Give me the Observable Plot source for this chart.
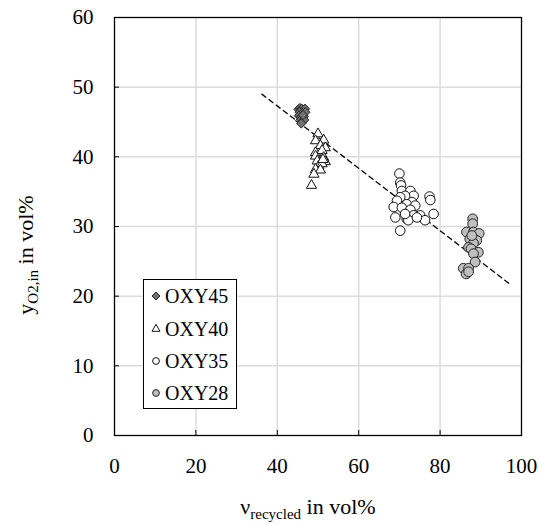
<!DOCTYPE html>
<html><head><meta charset="utf-8">
<script src="https://cdn.jsdelivr.net/npm/d3@7"></script>
<script src="https://cdn.jsdelivr.net/npm/@observablehq/plot@0.6"></script>
<style>body{margin:0;background:#fff} svg text{font-family:"Liberation Serif","DejaVu Serif",serif !important;}</style>
</head><body><div id="chart"></div>
<script>
const xTicks = [0, 20, 40, 60, 80, 100];
const yTicks = [0, 10, 20, 30, 40, 50, 60];
const xGrid = [20, 40, 60, 80];
const yGrid = [10, 20, 30, 40, 50];
const seriesNames = ["OXY45", "OXY40", "OXY35", "OXY28"];

const oxy45X = [45.2, 45.6, 46.0, 46.4, 46.8, 45.5, 46.2, 46.9, 45.3, 45.8, 46.5, 45.6, 46.1, 46.6, 45.9, 46.3];
const oxy45Y = [46.8, 47.0, 46.9, 46.7, 46.9, 46.4, 46.3, 46.4, 45.9, 45.7, 45.8, 45.2, 45.0, 45.3, 44.8, 46.0];

const oxy40X = [50.0, 49.4, 51.4, 50.6, 51.8, 49.4, 51.0, 49.4, 51.4, 49.8, 51.8, 50.2, 51.0, 49.4, 50.6, 49.0, 48.4, 51.2];
const oxy40Y = [43.3, 42.3, 42.4, 41.6, 41.3, 40.6, 40.9, 40.1, 39.9, 39.4, 39.3, 38.7, 39.0, 38.2, 38.1, 37.5, 35.9, 39.6];

const oxy35X = [70.0, 70.2, 70.4, 70.6, 72.7, 73.5, 71.4, 70.2, 77.4, 77.6, 69.4, 73.1, 71.8, 73.9, 68.6, 70.6, 72.7, 78.4, 75.1, 73.5, 69.0, 71.8, 72.2, 76.3, 74.3, 70.2, 71.4];
const oxy35Y = [37.6, 36.3, 35.9, 35.1, 35.1, 34.4, 34.4, 34.2, 34.3, 33.8, 33.7, 33.5, 33.2, 33.0, 32.8, 32.7, 32.4, 31.8, 31.6, 31.6, 31.3, 31.1, 30.9, 30.9, 31.3, 29.4, 31.8];

const oxy28X = [88.0, 88.0, 86.5, 88.2, 89.6, 87.3, 89.0, 88.2, 87.0, 87.6, 89.4, 88.2, 88.6, 85.7, 87.0, 86.4, 87.0, 87.8];
const oxy28Y = [31.1, 30.4, 29.2, 29.2, 29.0, 28.2, 28.0, 27.6, 27.0, 26.8, 26.3, 26.1, 24.9, 24.0, 24.0, 23.2, 23.5, 28.7];

const fitX = [36.2, 97.0];
const fitY = [49.0, 21.8];

const pts = (xs, ys) => xs.map((x, i) => ({x, y: ys[i]}));
const fit = pts(fitX, fitY);

const styles = {
  OXY45: {symbol: "diamond2", r: 4.2, fill: "#727272", stroke: "#222"},
  OXY40: {symbol: "triangle", r: 3.8, fill: "white", stroke: "#111"},
  OXY35: {symbol: "circle", r: 4.8, fill: "white", stroke: "#111"},
  OXY28: {symbol: "circle", r: 4.9, fill: "#bfbfbf", stroke: "#222"}
};
const data = {OXY45: pts(oxy45X, oxy45Y), OXY40: pts(oxy40X, oxy40Y), OXY35: pts(oxy35X, oxy35Y), OXY28: pts(oxy28X, oxy28Y)};

const font = "Liberation Serif, DejaVu Serif, serif";

const chart = Plot.plot({
  width: 539, height: 525,
  marginLeft: 114, marginRight: 18, marginTop: 17, marginBottom: 90,
  style: {fontFamily: font, fontSize: "21px", color: "black", background: "white"},
  x: {domain: [0, 100]},
  y: {domain: [0, 60]},
  marks: [
    Plot.gridX(xGrid, {stroke: "#dcdcdc", strokeOpacity: 1, strokeWidth: 1.5}),
    Plot.gridY(yGrid, {stroke: "#dcdcdc", strokeOpacity: 1, strokeWidth: 1.5}),
    Plot.axisX(xTicks, {tickSize: -5, tickPadding: 28, fontSize: 21, label: null, tickFormat: d => String(d)}),
    Plot.axisY(yTicks, {tickSize: -5, tickPadding: 26, fontSize: 21, label: null, tickFormat: d => String(d)}),
    Plot.line(fit, {x: "x", y: "y", stroke: "black", strokeWidth: 1.3, strokeDasharray: "5,4"}),
    ...seriesNames.map(n => Plot.dot(data[n], {x: "x", y: "y", symbol: () => styles[n].symbol, r: styles[n].r, fill: styles[n].fill, stroke: styles[n].stroke, strokeWidth: 1})),
    Plot.frame({stroke: "black", strokeWidth: 1.3})
  ]
});
document.getElementById("chart").appendChild(chart);

const svg = d3.select(chart);
// x axis label
const xl = svg.append("text").attr("x", 308).attr("y", 514).attr("text-anchor", "middle")
  .attr("font-family", font).attr("font-size", 22).attr("fill", "black");
xl.append("tspan").text("ν");
xl.append("tspan").attr("dy", 5).attr("font-size", 15).text("recycled");
xl.append("tspan").attr("dy", -5).text(" in vol%");
// y axis label
const yl = svg.append("text").attr("transform", "translate(32.5,255) rotate(-90)").attr("text-anchor", "middle")
  .attr("font-family", font).attr("font-size", 22).attr("fill", "black");
yl.append("tspan").text("y");
yl.append("tspan").attr("dy", 5).attr("font-size", 15).text("O2,in");
yl.append("tspan").attr("dy", -5).text(" in vol%");

// legend
const lg = svg.append("g");
lg.append("rect").attr("x", 143.5).attr("y", 279.5).attr("width", 93).attr("height", 129)
  .attr("fill", "white").attr("stroke", "black").attr("stroke-width", 1);
const rows = [296, 329, 361, 393];
const symMap = {diamond2: d3.symbolDiamond2, triangle: d3.symbolTriangle, circle: d3.symbolCircle};
seriesNames.forEach((n, i) => {
  const s = styles[n];
  const size = n === "OXY45" ? 40 : n === "OXY40" ? 28 : 36;
  lg.append("path").attr("d", d3.symbol(symMap[s.symbol], size)())
    .attr("transform", `translate(156,${rows[i]})`).attr("fill", s.fill).attr("stroke", s.stroke).attr("stroke-width", 1);
  lg.append("text").attr("x", 165).attr("y", rows[i] + 7).attr("text-anchor", "start")
    .attr("font-family", font).attr("font-size", 20).attr("fill", "black").text(n);
});
</script>
</body></html>
